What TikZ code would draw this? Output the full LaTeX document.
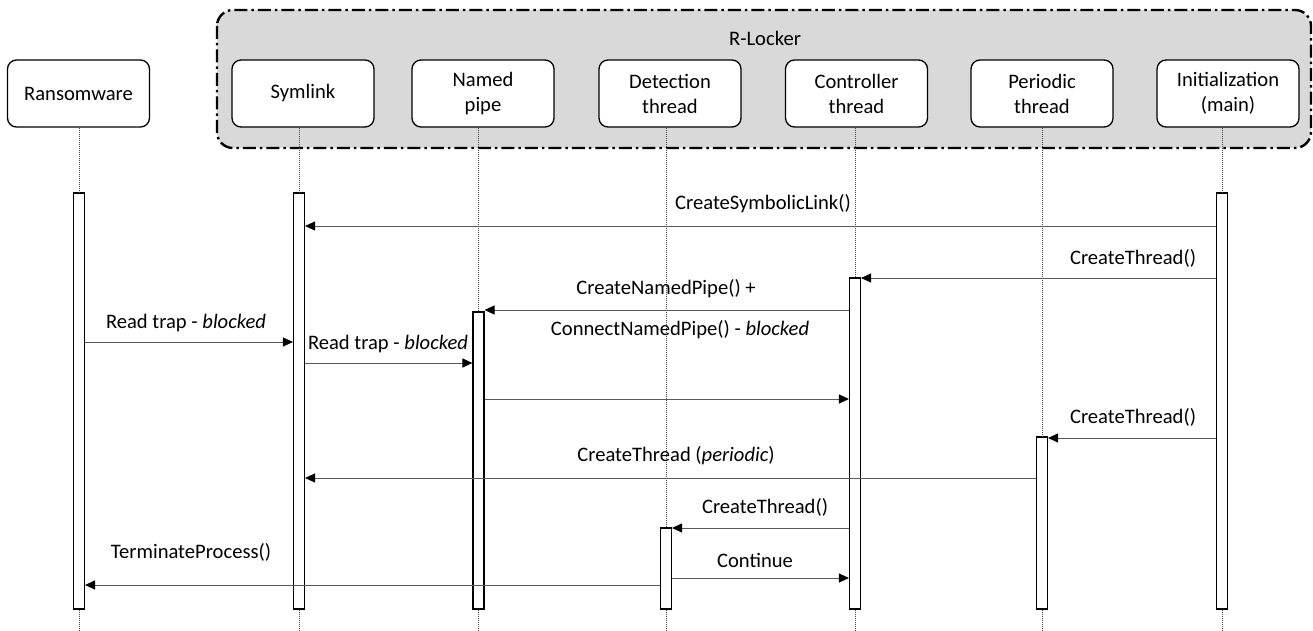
\documentclass[tikz,border=0pt]{standalone}
\usepackage{fontspec}
\setmainfont{Carlito}
\usetikzlibrary{arrows.meta}
\begin{document}
\begin{tikzpicture}[x=1pt,y=-1pt,
  every node/.style={font=\fontsize{20.6}{25}\selectfont},
  actor/.style={draw=black,line width=1.3pt,fill=white,rounded corners=9pt,minimum width=142pt,minimum height=67pt,align=center,inner sep=0pt},
  actbar/.style={draw=black,line width=1.1pt,fill=white,minimum width=11pt,inner sep=0pt},
  life/.style={draw=black!70,line width=0.6pt,dash pattern=on 1pt off 1pt},
  msg/.style={draw=black!65,line width=1pt,-{Triangle[length=10pt,width=9pt,fill=black,color=black]}},
  lbl/.style={inner sep=0pt}]
\useasboundingbox (0,0) rectangle (1313,631);
% group
\draw[line width=2.4pt,fill=black!15,rounded corners=16pt,dash pattern=on 13pt off 4pt on 2.5pt off 4pt] (217,10) rectangle (1311,148);
\node[lbl] (rl) at (765,38) {R-Locker};
% actors
\node[actor] (ra) at (78.5,93.5) {Ransomware};
\node[actor] (sy) at (303,93.5) {Symlink};
\node[actor] (np) at (483,93.5) {Named\\pipe};
\node[actor] (dt) at (670,93.5) {Detection\\thread};
\node[actor] (ct) at (856.5,93.5) {Controller\\thread};
\node[actor] (pt) at (1042,93.5) {Periodic\\thread};
\node[actor] (in) at (1228,93.5) {Initialization\\(main)};
% bars
\node[actbar,minimum height=416pt] (rab) at (79,401) {};
\node[actbar,minimum height=416pt] (syb) at (299,401) {};
\node[actbar,minimum height=297pt] (npb) at (478.5,460.5) {};
\node[actbar,minimum height=81pt] (dtb) at (666,568.5) {};
\node[actbar,minimum height=331pt] (ctb) at (855,443.5) {};
\node[actbar,minimum height=172pt] (ptb) at (1042,523) {};
\node[actbar,minimum height=416pt] (inb) at (1222,401) {};
% lifelines
\foreach \a/\b in {ra/rab,sy/syb,np/npb,dt/dtb,ct/ctb,pt/ptb,in/inb}{
  \draw[life] (\b.north |- \a.south) -- (\b.north);
  \draw[life] (\b.south) -- (\b.south |- 0,631);
}
% messages
\draw[msg] (inb.west |- 0,226) -- (syb.east |- 0,226);
\node[lbl] (m1) at (763,204) {CreateSymbolicLink()};
\draw[msg] (inb.west |- 0,278) -- (ctb.east |- 0,278);
\node[lbl] (m2) at (1133,258) {CreateThread()};
\draw[msg] (ctb.west |- 0,310) -- (npb.east |- 0,310);
\node[lbl] (m3) at (666,289) {CreateNamedPipe() +};
\node[lbl] (m3b) at (680,330) {ConnectNamedPipe() - \textit{blocked}};
\draw[msg] (rab.east |- 0,342) -- (syb.west |- 0,342);
\node[lbl] (m4) at (186,323) {Read trap - \textit{blocked}};
\draw[msg] (syb.east |- 0,363) -- (npb.west |- 0,363);
\node[lbl] (m5) at (388,344) {Read trap - \textit{blocked}};
\draw[msg] (npb.east |- 0,399) -- (ctb.west |- 0,399);
\draw[msg] (inb.west |- 0,438) -- (ptb.east |- 0,438);
\node[lbl] (m7) at (1133,417) {CreateThread()};
\draw[msg] (ptb.west |- 0,478) -- (syb.east |- 0,478);
\node[lbl] (m8) at (676,456) {CreateThread (\textit{periodic})};
\draw[msg] (ctb.west |- 0,528) -- (dtb.east |- 0,528);
\node[lbl] (m9) at (765,507) {CreateThread()};
\draw[msg] (dtb.east |- 0,578) -- (ctb.west |- 0,578);
\node[lbl] (m10) at (755,560) {Continue};
\draw[msg] (dtb.west |- 0,585) -- (rab.east |- 0,585);
\node[lbl] (m11) at (191,552) {TerminateProcess()};
\end{tikzpicture}
\end{document}
